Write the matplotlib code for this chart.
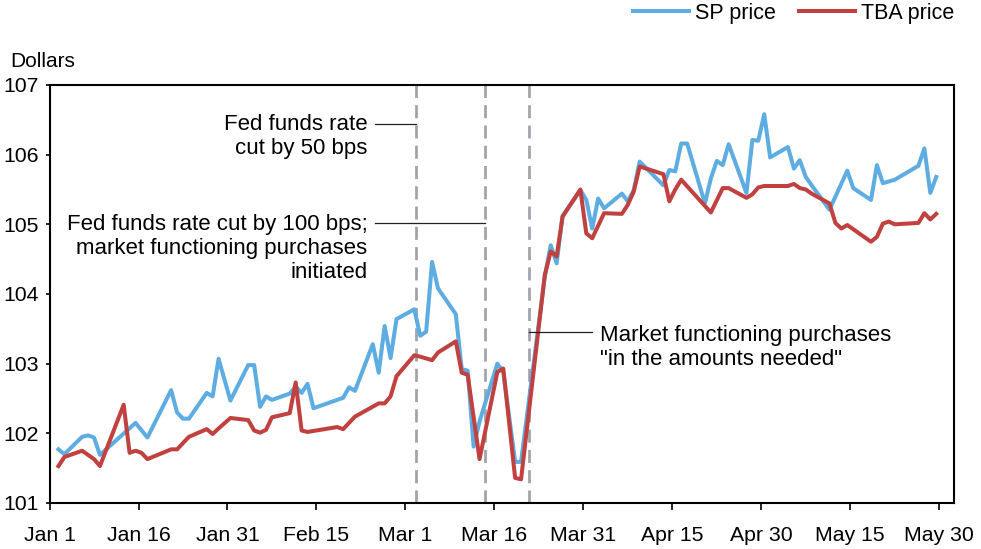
import pandas as pd
import matplotlib.pyplot as plt
import matplotlib.dates as mdates

# SP (specified pool) price
sp_dates = [
    "2020-01-02", "2020-01-03", "2020-01-06", "2020-01-07", "2020-01-08", "2020-01-09",
    "2020-01-15", "2020-01-17", "2020-01-21", "2020-01-22", "2020-01-23", "2020-01-24",
    "2020-01-27", "2020-01-28", "2020-01-29", "2020-01-31", "2020-02-03", "2020-02-04",
    "2020-02-05", "2020-02-06", "2020-02-07", "2020-02-10", "2020-02-11", "2020-02-12",
    "2020-02-13", "2020-02-14", "2020-02-19", "2020-02-20", "2020-02-21", "2020-02-24",
    "2020-02-25", "2020-02-26", "2020-02-27", "2020-02-28", "2020-03-02", "2020-03-03",
    "2020-03-04", "2020-03-05", "2020-03-06", "2020-03-09", "2020-03-10", "2020-03-11",
    "2020-03-12", "2020-03-13", "2020-03-16", "2020-03-17", "2020-03-19", "2020-03-20",
    "2020-03-24", "2020-03-25", "2020-03-26", "2020-03-27", "2020-03-30", "2020-03-31",
    "2020-04-01", "2020-04-02", "2020-04-03", "2020-04-06", "2020-04-07", "2020-04-08",
    "2020-04-09", "2020-04-13", "2020-04-14", "2020-04-15", "2020-04-16", "2020-04-17",
    "2020-04-20", "2020-04-21", "2020-04-22", "2020-04-23", "2020-04-24", "2020-04-27",
    "2020-04-28", "2020-04-29", "2020-04-30", "2020-05-01", "2020-05-04", "2020-05-05",
    "2020-05-06", "2020-05-07", "2020-05-08", "2020-05-11", "2020-05-14", "2020-05-15",
    "2020-05-18", "2020-05-19", "2020-05-20", "2020-05-22", "2020-05-26", "2020-05-27",
    "2020-05-28", "2020-05-29",
]
sp_price = [
    101.77, 101.70, 101.95, 101.97, 101.94, 101.69,
    102.15, 101.94, 102.62, 102.30, 102.21, 102.21,
    102.58, 102.53, 103.07, 102.47, 102.98, 102.98,
    102.38, 102.53, 102.48, 102.57, 102.67, 102.58,
    102.71, 102.36, 102.51, 102.66, 102.61, 103.28,
    102.87, 103.54, 103.08, 103.64, 103.78, 103.40,
    103.46, 104.46, 104.08, 103.71, 102.92, 102.90,
    101.81, 102.17, 103.00, 102.88, 101.59, 101.59,
    104.25, 104.70, 104.44, 105.12, 105.49, 105.35,
    104.94, 105.37, 105.23, 105.44, 105.33, 105.49,
    105.90, 105.56, 105.78, 105.76, 106.16, 106.16,
    105.30, 105.66, 105.91, 105.85, 106.15, 105.45,
    106.21, 106.20, 106.58, 105.96, 106.11, 105.80,
    105.92, 105.68, 105.56, 105.21, 105.77, 105.52,
    105.35, 105.85, 105.59, 105.64, 105.84, 106.09,
    105.45, 105.68,
]

# TBA price
tba_dates = [
    "2020-01-02", "2020-01-03", "2020-01-06", "2020-01-07", "2020-01-08", "2020-01-09",
    "2020-01-13", "2020-01-14", "2020-01-15", "2020-01-16", "2020-01-17", "2020-01-21",
    "2020-01-22", "2020-01-24", "2020-01-27", "2020-01-28", "2020-01-29", "2020-01-31",
    "2020-02-03", "2020-02-04", "2020-02-05", "2020-02-06", "2020-02-07", "2020-02-10",
    "2020-02-11", "2020-02-12", "2020-02-13", "2020-02-18", "2020-02-19", "2020-02-21",
    "2020-02-25", "2020-02-26", "2020-02-27", "2020-02-28", "2020-03-02", "2020-03-03",
    "2020-03-05", "2020-03-06", "2020-03-09", "2020-03-10", "2020-03-11", "2020-03-13",
    "2020-03-16", "2020-03-17", "2020-03-19", "2020-03-20", "2020-03-24", "2020-03-25",
    "2020-03-26", "2020-03-27", "2020-03-30", "2020-03-31", "2020-04-01", "2020-04-03",
    "2020-04-06", "2020-04-07", "2020-04-08", "2020-04-09", "2020-04-13", "2020-04-14",
    "2020-04-15", "2020-04-16", "2020-04-21", "2020-04-23", "2020-04-24", "2020-04-27",
    "2020-04-28", "2020-04-29", "2020-04-30", "2020-05-04", "2020-05-05", "2020-05-06",
    "2020-05-07", "2020-05-08", "2020-05-11", "2020-05-12", "2020-05-13", "2020-05-14",
    "2020-05-18", "2020-05-19", "2020-05-20", "2020-05-21", "2020-05-22", "2020-05-26",
    "2020-05-27", "2020-05-28", "2020-05-29",
]
tba_price = [
    101.53, 101.66, 101.75, 101.69, 101.63, 101.53,
    102.41, 101.72, 101.75, 101.72, 101.63, 101.77,
    101.77, 101.95, 102.06, 101.99, 102.07, 102.22,
    102.19, 102.04, 102.01, 102.05, 102.23, 102.29,
    102.73, 102.04, 102.02, 102.09, 102.06, 102.24,
    102.43, 102.43, 102.53, 102.82, 103.12, 103.10,
    103.05, 103.16, 103.32, 102.87, 102.84, 101.63,
    102.88, 102.93, 101.36, 101.34, 104.27, 104.61,
    104.54, 105.11, 105.50, 104.87, 104.80, 105.16,
    105.15, 105.28, 105.47, 105.83, 105.72, 105.33,
    105.50, 105.64, 105.17, 105.52, 105.52, 105.38,
    105.43, 105.53, 105.55, 105.55, 105.58, 105.52,
    105.50, 105.44, 105.30, 105.02, 104.94, 104.99,
    104.75, 104.82, 105.01, 105.04, 105.00, 105.02,
    105.16, 105.07, 105.15,
]

tick_dates = ["2020-01-01", "2020-01-16", "2020-01-31", "2020-02-15", "2020-03-01", "2020-03-16",
              "2020-03-31", "2020-04-15", "2020-04-30", "2020-05-15", "2020-05-30"]
tick_labels = ["Jan 1", "Jan 16", "Jan 31", "Feb 15", "Mar 1", "Mar 16",
               "Mar 31", "Apr 15", "Apr 30", "May 15", "May 30"]

# dashed event markers (as placed on the original chart)
event_dates = ["2020-03-02 17:00", "2020-03-14 12:00", "2020-03-21 22:00"]

plt.rcParams["font.family"] = ["Liberation Sans", "DejaVu Sans"]

fig = plt.figure(figsize=(9.81, 5.49), dpi=100)
ax = fig.add_axes([0.0505, 0.0838, 0.922, 0.7614])

# points sit in the middle of each day slot
half_day = pd.Timedelta(hours=12)
ax.plot(pd.to_datetime(sp_dates) + half_day, sp_price, color="#5DADE2", lw=2.9,
        label="SP price", zorder=3)
ax.plot(pd.to_datetime(tba_dates) + half_day, tba_price, color="#C0413F", lw=2.9,
        label="TBA price", zorder=4)

ev = mdates.date2num(pd.to_datetime(event_dates))
for x in ev:
    ax.axvline(x, color="#A2A4AC", lw=2.0, dashes=(4.7, 2.6), zorder=2)

# annotations with leader lines
ax.plot([ev[0] - 6.9, ev[0]], [106.44, 106.44], color="#222222", lw=0.9, zorder=5)
ax.text(ev[0] - 8.1, 106.26, "Fed funds rate\ncut by 50 bps", ha="right", va="center",
        multialignment="right", fontsize=16)

ax.plot([ev[1] - 18.7, ev[1]], [105.015, 105.015], color="#222222", lw=0.9, zorder=5)
ax.text(ev[1] - 19.9, 104.65, "Fed funds rate cut by 100 bps;\nmarket functioning purchases\ninitiated",
        ha="right", va="center", multialignment="right", fontsize=16)

ax.plot([ev[2], ev[2] + 10.6], [103.45, 103.45], color="#222222", lw=0.9, zorder=5)
ax.text(ev[2] + 11.9, 103.235, "Market functioning purchases\n\"in the amounts needed\"",
        ha="left", va="center", multialignment="left", fontsize=16)

ax.set_xlim(pd.Timestamp("2020-01-01"), pd.Timestamp("2020-06-01 12:00"))
ax.set_ylim(101, 107)
ax.set_yticks(range(101, 108))
ax.set_xticks(pd.to_datetime(tick_dates))
ax.set_xticklabels(tick_labels)
ax.tick_params(axis="x", direction="out", length=5, width=1.2, pad=11.5, labelsize=15.3)
ax.tick_params(axis="y", direction="out", length=3, width=1.2, pad=4.5, labelsize=15.3)
for s in ax.spines.values():
    s.set_linewidth(1.5)

fig.text(10 / 981, 1 - 61.5 / 549, "Dollars", ha="left", va="center", fontsize=15)

ax.legend(loc="center right", bbox_to_anchor=(954 / 981, 1 - 13.5 / 549),
          bbox_transform=fig.transFigure, ncol=2, frameon=False, fontsize=15.5,
          handlelength=2.6, handletextpad=0.25, columnspacing=1.1,
          borderpad=0, borderaxespad=0)

fig.savefig("out.png", dpi=100)
